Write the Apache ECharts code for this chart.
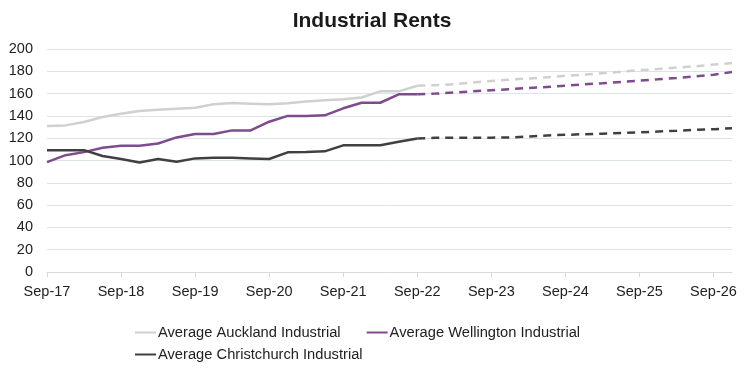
<!DOCTYPE html>
<html>
<head>
<meta charset="utf-8">
<script src="https://cdn.jsdelivr.net/npm/echarts@6/dist/echarts.min.js"></script>
<style>html,body{margin:0;padding:0;background:#fff}#c{width:744px;height:372px}</style>
</head>
<body>
<div id="c"></div>
<script>
const categories = ["Sep-17","Dec-17","Mar-18","Jun-18","Sep-18","Dec-18","Mar-19","Jun-19","Sep-19","Dec-19",
  "Mar-20","Jun-20","Sep-20","Dec-20","Mar-21","Jun-21","Sep-21","Dec-21","Mar-22","Jun-22",
  "Sep-22","Dec-22","Mar-23","Jun-23","Sep-23","Dec-23","Mar-24","Jun-24","Sep-24","Dec-24",
  "Mar-25","Jun-25","Sep-25","Dec-25","Mar-26","Jun-26","Sep-26","Dec-26"];
// historical (to Sep-22)
const aucklandActual = [131,131.5,134.5,139,142,144.3,145.5,146.5,147.4,150.5,151.5,151,150.5,151.3,153,154,155,156.5,162,162,167];
const wellingtonActual = [98.5,104.8,107.5,111.4,113.2,113.2,115.3,120.7,123.7,123.7,127,127,134.8,140,140,140.5,146.8,151.8,151.8,159.4,159.4];
const christchurchActual = [109.3,109.3,109.3,104,101.3,98.3,101.3,98.8,101.9,102.4,102.4,101.9,101.3,107.3,107.6,108.2,113.6,113.6,113.6,116.8,119.8];
// forecast (Sep-22 to Dec-26)
const aucklandForecast = [167,167.5,168.5,170,171.3,172.5,173.5,174.7,176,177,178.3,179.5,181,182,183.3,184.5,186,187.4];
const wellingtonForecast = [159.4,160,161,162,163,164,165,166,167,168.3,169.3,170.5,171.7,172.8,174,175.5,177,179.3];
const christchurchForecast = [119.8,120.3,120.5,120.5,120.5,120.7,121.5,122.5,123,123.6,124,124.6,125.2,126,126.6,127.5,128.1,128.9];
const yTicks = {min:0, max:200, interval:20};

const nHist = aucklandActual.length;
function hist(a){ return categories.map((c,i)=> i < a.length ? a[i] : null); }
function fc(a){ return categories.map((c,i)=> i >= nHist-1 ? a[i-(nHist-1)] : null); }

const colA = '#d0d0d0', colW = '#7d4b8e', colC = '#404042';
const FF = 'Liberation Sans, Arial';
const chart = echarts.init(document.getElementById('c'));
const lineBase = {type:'line', symbol:'none', smooth:false, connectNulls:false};
chart.setOption({
  animation:false,
  title:{text:'Industrial Rents', left:'center', top:6,
    textStyle:{fontFamily:FF, fontSize:21, fontWeight:'bold', color:'#1a1a1a'}},
  grid:{left:47, right:12, top:49, bottom:100, containLabel:false},
  legend:[{
    data:['Average Auckland Industrial','Average Wellington Industrial'],
    left:130, top:320, itemWidth:21, itemHeight:2, itemGap:26, icon:'rect',
    textStyle:{fontFamily:FF, fontSize:14.7, color:'#222', padding:[0,0,0,-3]}
  },{
    data:['Average Christchurch Industrial'],
    left:130, top:342, itemWidth:21, itemHeight:2, icon:'rect',
    textStyle:{fontFamily:FF, fontSize:14.7, color:'#222', padding:[0,0,0,-3]}
  }],
  xAxis:{type:'category', data:categories, boundaryGap:false,
    axisLine:{lineStyle:{color:'#d9d9d9', width:1}},
    axisTick:{interval:3, length:5, lineStyle:{color:'#d9d9d9'}},
    axisLabel:{interval:3, fontFamily:FF, fontSize:14.5, color:'#222', margin:12},
    splitLine:{show:false}},
  yAxis:{type:'value', min:yTicks.min, max:yTicks.max, interval:yTicks.interval,
    axisLine:{show:false}, axisTick:{show:false},
    axisLabel:{fontFamily:FF, fontSize:14.5, color:'#222', margin:14},
    splitLine:{lineStyle:{color:'#dde3ec', width:1}}},
  series:[
    Object.assign({}, lineBase, {name:'Average Auckland Industrial', data:hist(aucklandActual), color:colA, lineStyle:{color:colA, width:2.5}, z:2}),
    Object.assign({}, lineBase, {name:'Average Wellington Industrial', data:hist(wellingtonActual), color:colW, lineStyle:{color:colW, width:2.5}, z:3}),
    Object.assign({}, lineBase, {name:'Average Christchurch Industrial', data:hist(christchurchActual), color:colC, lineStyle:{color:colC, width:2.5}, z:4}),
    Object.assign({}, lineBase, {name:'Auckland Forecast', data:fc(aucklandForecast), color:colA, lineStyle:{color:colA, width:2.5, type:[8,6]}, z:2}),
    Object.assign({}, lineBase, {name:'Wellington Forecast', data:fc(wellingtonForecast), color:colW, lineStyle:{color:colW, width:2.5, type:[8,6]}, z:3}),
    Object.assign({}, lineBase, {name:'Christchurch Forecast', data:fc(christchurchForecast), color:colC, lineStyle:{color:colC, width:2.5, type:[8,6]}, z:4})
  ]
});
</script>
</body>
</html>
